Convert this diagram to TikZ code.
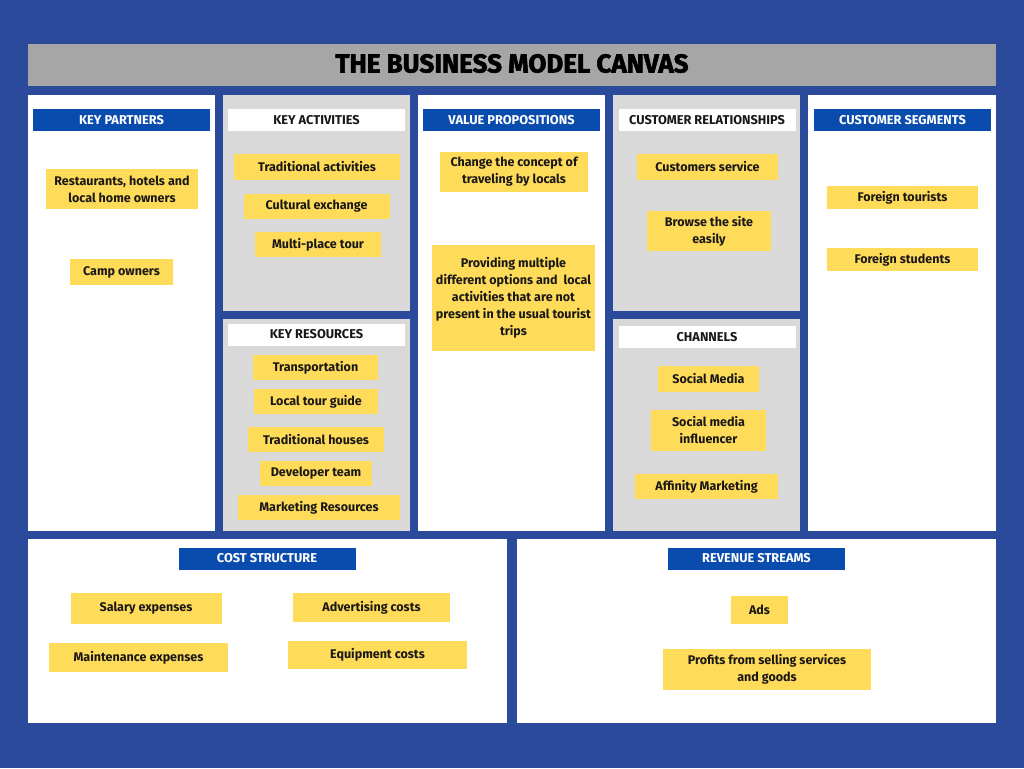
\documentclass[tikz,border=0pt]{standalone}
\usepackage{fontspec}
\setmainfont{Fira Sans}
\newfontfamily\titlefont[BoldFeatures={FakeBold=2.2}]{Fira Sans}
\definecolor{canvasblue}{RGB}{44,74,156}
\definecolor{headblue}{RGB}{10,76,174}
\definecolor{titlegray}{RGB}{166,166,166}
\definecolor{panelgray}{RGB}{217,217,217}
\definecolor{note}{RGB}{255,219,90}
\definecolor{ink}{RGB}{26,24,22}
\tikzset{
  sz/.style 2 args={minimum width=#1*0.75pt, minimum height=#2*0.75pt},
  whitepanel/.style={fill=white},
  graypanel/.style={fill=panelgray},
  bluehead/.style={fill=headblue, text=white, inner sep=0pt, sz={177}{22},
    font=\fontsize{9.6pt}{11pt}\selectfont\bfseries},
  whitehead/.style={fill=white, text=ink, inner sep=0pt, sz={177}{22},
    font=\fontsize{9.6pt}{11pt}\selectfont\bfseries},
  sticky/.style={fill=note, text=ink, inner sep=0pt, align=center,
    font=\fontsize{9.4pt}{12.75pt}\selectfont\bfseries},
}
\begin{document}
\begin{tikzpicture}[x=0.75pt, y=-0.75pt]
  % page background
  \fill[canvasblue] (0,0) rectangle (1024,768);
  \useasboundingbox (0,0) rectangle (1024,768);

  % title bar
  \fill[titlegray] (28,44) rectangle (996,86);
  \node (title) at (512,63.5) {\titlefont\bfseries\fontsize{19.5pt}{22pt}\selectfont THE BUSINESS MODEL CANVAS};

  % canvas blocks
  \fill[whitepanel] (28,95) rectangle (215,531);
  \fill[graypanel] (223,95) rectangle (410,311);
  \fill[graypanel] (223,319) rectangle (410,531);
  \fill[whitepanel] (418,95) rectangle (605,531);
  \fill[graypanel] (613,95) rectangle (800,311);
  \fill[graypanel] (613,319) rectangle (800,531);
  \fill[whitepanel] (808,95) rectangle (996,531);
  \fill[whitepanel] (28,539) rectangle (507,723);
  \fill[whitepanel] (517,539) rectangle (996,723);

  % block headings
  \node[bluehead] (hkp) at (121.5,120) {KEY PARTNERS};
  \node[whitehead] (hka) at (316.5,120) {KEY ACTIVITIES};
  \node[bluehead] (hvp) at (511.5,120) {VALUE PROPOSITIONS};
  \node[whitehead] (hcr) at (707,120) {CUSTOMER RELATIONSHIPS};
  \node[bluehead] (hcs) at (902.5,120) {CUSTOMER SEGMENTS};
  \node[whitehead] (hkr) at (316.5,334.5) {KEY RESOURCES};
  \node[whitehead] (hch) at (707,337) {CHANNELS};
  \node[bluehead] (hcost) at (267,558.5) {COST STRUCTURE};
  \node[bluehead] (hrev) at (756.5,558.5) {REVENUE STREAMS};

  % key partners
  \node[sticky, sz={152}{40}] (kp1) at (122,189) {Restaurants, hotels and\\local home owners};
  \node[sticky, sz={103}{26}] (kp2) at (121.5,272) {Camp owners};

  % key activities
  \node[sticky, sz={166}{26}] (ka1) at (317,167) {Traditional activities};
  \node[sticky, sz={146}{25}] (ka2) at (316.5,206) {Cultural exchange};
  \node[sticky, sz={126}{25}] (ka3) at (318,244.5) {Multi-place tour};

  % key resources
  \node[sticky, sz={125}{25}] (kr1) at (315.5,367.5) {Transportation};
  \node[sticky, sz={124}{25}] (kr2) at (316,401.5) {Local tour guide};
  \node[sticky, sz={136}{25}] (kr3) at (316,439.5) {Traditional houses};
  \node[sticky, sz={112}{25}] (kr4) at (316,473.5) {Developer team};
  \node[sticky, sz={162}{25}] (kr5) at (319,507.5) {Marketing Resources};

  % value propositions
  \node[sticky, sz={148}{40}] (vp1) at (514,172) {Change the concept of\\traveling by locals};
  \node[sticky, sz={163}{106}] (vp2) at (513.5,298) {Providing multiple\\different options and\ \ local\\activities that are not\\present in the usual tourist\\trips};

  % customer relationships
  \node[sticky, sz={141}{26}] (cr1) at (707.5,167) {Customers service};
  \node[sticky, sz={124}{40}] (cr2) at (709,231) {Browse the site\\easily};

  % channels
  \node[sticky, sz={101}{26}] (ch1) at (708.5,379) {Social Media};
  \node[sticky, sz={115}{41}] (ch2) at (708.5,430.5) {Social media\\influencer};
  \node[sticky, sz={143}{25}] (ch3) at (706.5,486.5) {Affinity Marketing};

  % customer segments
  \node[sticky, sz={151}{23}] (cs1) at (902.5,197.5) {Foreign tourists};
  \node[sticky, sz={151}{23}] (cs2) at (902.5,259.5) {Foreign students};

  % cost structure
  \node[sticky, sz={151}{31}] (co1) at (146,608.5) {Salary expenses};
  \node[sticky, sz={179}{29}] (co2) at (138.5,657.5) {Maintenance expenses};
  \node[sticky, sz={157}{29}] (co3) at (371.5,607.5) {Advertising costs};
  \node[sticky, sz={179}{28}] (co4) at (377.5,655) {Equipment costs};

  % revenue streams
  \node[sticky, sz={57}{28}] (rs1) at (759.5,610) {Ads};
  \node[sticky, sz={208}{41}] (rs2) at (767,669.5) {Profits from selling services\\and goods};
\end{tikzpicture}
\end{document}
